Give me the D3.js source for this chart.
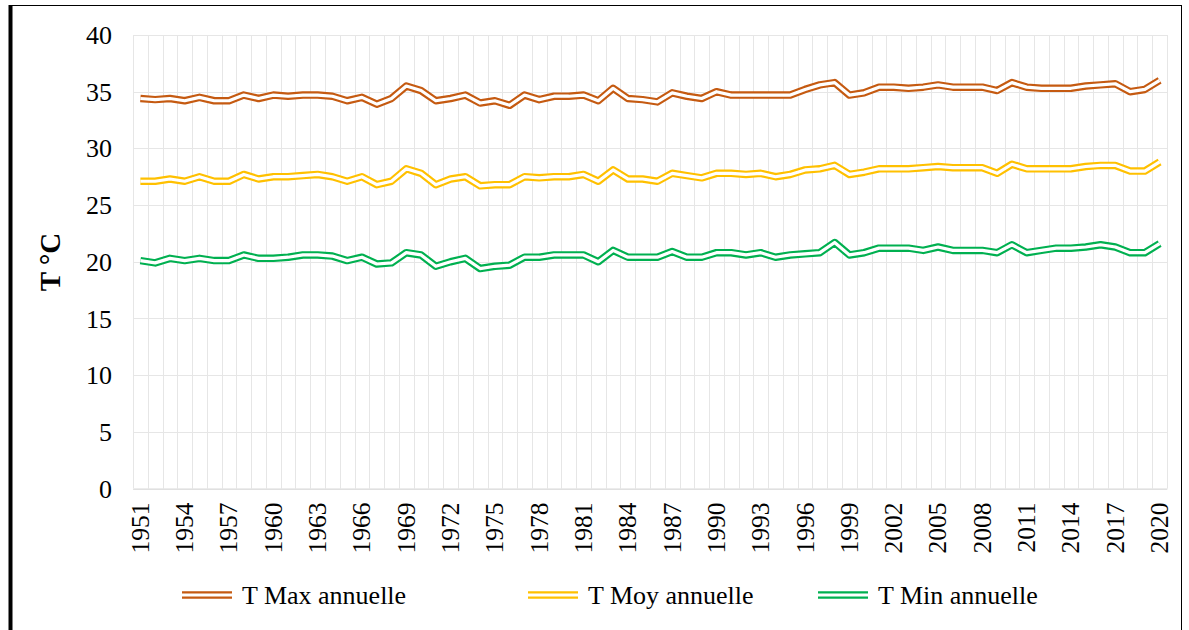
<!DOCTYPE html>
<html>
<head>
<meta charset="utf-8">
<script src="https://cdn.jsdelivr.net/npm/d3@7"></script>
<style>
  body { margin: 0; background: #fff; }
  svg { display: block; font-family: "Liberation Serif", "Times New Roman", serif; }
</style>
</head>
<body>
<svg id="chart" width="1189" height="630"></svg>
<script>
// years 1951..2020
const years = d3.range(1951, 2021);

const tMax = [
  34.4, 34.3, 34.4, 34.2, 34.5, 34.2, 34.2, 34.7, 34.4, 34.7,
  34.6, 34.7, 34.7, 34.6, 34.2, 34.5, 33.9, 34.4, 35.5, 35.1,
  34.2, 34.4, 34.7, 34.0, 34.2, 33.8, 34.7, 34.3, 34.6, 34.6,
  34.7, 34.2, 35.3, 34.4, 34.3, 34.1, 34.9, 34.6, 34.4, 35.0,
  34.7, 34.7, 34.7, 34.7, 34.7, 35.2, 35.6, 35.8, 34.7, 34.9,
  35.4, 35.4, 35.3, 35.4, 35.6, 35.4, 35.4, 35.4, 35.1, 35.8,
  35.4, 35.3, 35.3, 35.3, 35.5, 35.6, 35.7, 35.0, 35.2, 36.0
];

const tMoy = [
  27.1, 27.1, 27.3, 27.1, 27.5, 27.1, 27.1, 27.7, 27.3, 27.5,
  27.5, 27.6, 27.7, 27.5, 27.1, 27.5, 26.8, 27.1, 28.2, 27.8,
  26.8, 27.3, 27.5, 26.7, 26.8, 26.8, 27.5, 27.4, 27.5, 27.5,
  27.7, 27.1, 28.1, 27.3, 27.3, 27.1, 27.8, 27.6, 27.4, 27.8,
  27.8, 27.7, 27.8, 27.5, 27.7, 28.1, 28.2, 28.5, 27.7, 27.9,
  28.2, 28.2, 28.2, 28.3, 28.4, 28.3, 28.3, 28.3, 27.8, 28.6,
  28.2, 28.2, 28.2, 28.2, 28.4, 28.5, 28.5, 28.0, 28.0, 28.8
];

const tMin = [
  20.1, 19.9, 20.3, 20.1, 20.3, 20.1, 20.1, 20.6, 20.3, 20.3,
  20.4, 20.6, 20.6, 20.5, 20.1, 20.4, 19.8, 19.9, 20.8, 20.6,
  19.6, 20.0, 20.3, 19.4, 19.6, 19.7, 20.4, 20.4, 20.6, 20.6,
  20.6, 20.0, 21.0, 20.4, 20.4, 20.4, 20.9, 20.4, 20.4, 20.8,
  20.8, 20.6, 20.8, 20.4, 20.6, 20.7, 20.8, 21.7, 20.6, 20.8,
  21.2, 21.2, 21.2, 21.0, 21.3, 21.0, 21.0, 21.0, 20.8, 21.5,
  20.8, 21.0, 21.2, 21.2, 21.3, 21.5, 21.3, 20.8, 20.8, 21.6
];

const seriesNames = ["T Max annuelle", "T Moy annuelle", "T Min annuelle"];
const seriesColors = ["#c55a11", "#ffc000", "#00b050"];
const yTicks = [0, 5, 10, 15, 20, 25, 30, 35, 40];

const svg = d3.select("#chart");
const serif = "'Liberation Serif', 'Times New Roman', serif";

// frame
svg.append("line").attr("x1", 9).attr("x2", 1182).attr("y1", 5.5).attr("y2", 5.5)
  .attr("stroke", "#000").attr("stroke-width", 1);
svg.append("line").attr("x1", 1181.5).attr("x2", 1181.5).attr("y1", 5).attr("y2", 630)
  .attr("stroke", "#000").attr("stroke-width", 1);
svg.append("line").attr("x1", 10.5).attr("x2", 10.5).attr("y1", 5).attr("y2", 630)
  .attr("stroke", "#000").attr("stroke-width", 4);

const x = d3.scaleBand().domain(years).range([133, 1167]).padding(0);
const y = d3.scaleLinear().domain([0, 40]).range([488.5, 35]);
const cx = d => x(d) + x.bandwidth() / 2;

// gridlines
const grid = svg.append("g").attr("stroke", "#e6e6e6").attr("stroke-width", 1);
grid.selectAll(".hg").data(yTicks).join("line")
  .attr("x1", 133).attr("x2", 1167)
  .attr("y1", d => Math.round(y(d)) + 0.5).attr("y2", d => Math.round(y(d)) + 0.5);
grid.selectAll(".vg").data(years.concat([null])).join("line")
  .attr("x1", (d, i) => Math.round(133 + i * x.bandwidth()) + 0.5)
  .attr("x2", (d, i) => Math.round(133 + i * x.bandwidth()) + 0.5)
  .attr("y1", y(40)).attr("y2", y(0));

// y axis
const yAxis = svg.append("g").attr("transform", "translate(133,0)")
  .call(d3.axisLeft(y).tickValues(yTicks).tickSize(0).tickPadding(21));
yAxis.select(".domain").remove();
yAxis.selectAll("text").attr("font-size", 26).attr("fill", "#000")
  .attr("font-family", serif).attr("dy", "0.33em");

// x axis
const xAxis = svg.append("g").attr("transform", `translate(0,${y(0)})`)
  .call(d3.axisBottom(x).tickValues(years.filter((d, i) => i % 3 === 0)).tickSize(0));
xAxis.select(".domain").attr("stroke", "#d9d9d9");
xAxis.selectAll("text")
  .attr("font-size", 25.5).attr("fill", "#000")
  .attr("font-family", serif)
  .attr("text-anchor", "end")
  .attr("dy", "0.33em")
  .attr("transform", "translate(0,14) rotate(-90)")
  .attr("x", 0).attr("y", 0);

// y title
svg.append("text")
  .attr("transform", "translate(60,262) rotate(-90)")
  .attr("text-anchor", "middle")
  .attr("font-size", 29).attr("font-weight", "bold")
  .attr("font-family", serif)
  .text("T °C");

// double lines
const line = d3.line().x((d, i) => cx(years[i])).y(d => y(d));
const allSeries = [tMax, tMoy, tMin];
const lines = svg.append("g").attr("fill", "none").attr("stroke-linejoin", "round");
allSeries.forEach((s, k) => {
  lines.append("path").datum(s).attr("d", line)
    .attr("stroke", seriesColors[k]).attr("stroke-width", 7.5);
  lines.append("path").datum(s).attr("d", line)
    .attr("stroke", "#fff").attr("stroke-width", 3.2);
});

// legend
const legendX = [182, 528, 818];
const legend = svg.append("g");
seriesNames.forEach((name, k) => {
  const g = legend.append("g").attr("transform", `translate(${legendX[k]},595)`);
  g.append("line").attr("x1", 0).attr("x2", 50).attr("stroke", seriesColors[k]).attr("stroke-width", 7.5);
  g.append("line").attr("x1", 0).attr("x2", 50).attr("stroke", "#fff").attr("stroke-width", 3.2);
  g.append("text").attr("x", 60).attr("y", 0).attr("dy", "0.33em")
    .attr("font-size", 26).attr("fill", "#000")
    .attr("font-family", serif).text(name);
});
</script>
</body>
</html>
